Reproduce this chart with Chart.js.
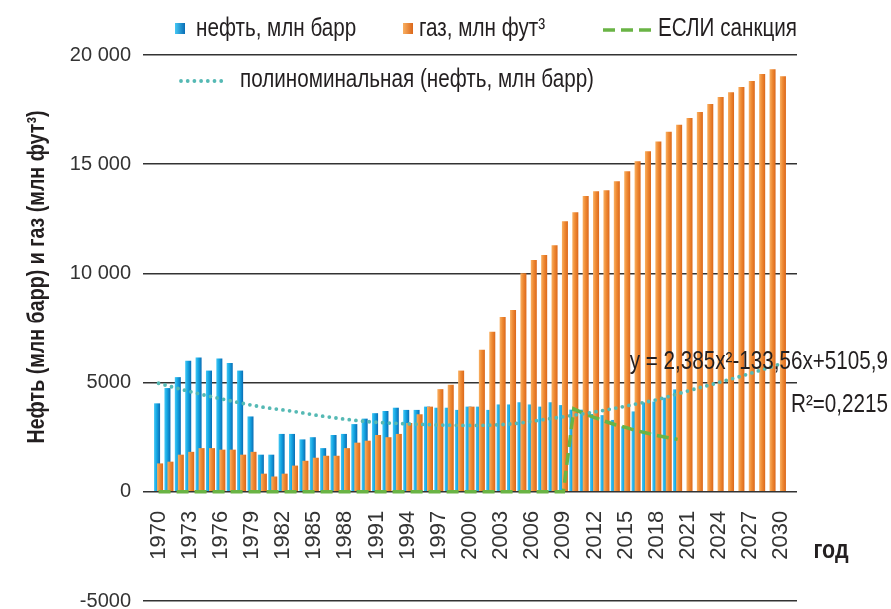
<!DOCTYPE html>
<html>
<head>
<meta charset="utf-8">
<script src="https://cdn.jsdelivr.net/npm/chart.js@4.4.0/dist/chart.umd.min.js"></script>
<style>
html, body { margin: 0; padding: 0; background: #fff; }
#wrap { width: 891px; height: 609px; }
</style>
</head>
<body>
<div id="wrap"><canvas id="myChart" width="891" height="609"></canvas></div>
<script>
// years on the x axis
const years = [1970, 1971, 1972, 1973, 1974, 1975, 1976, 1977, 1978, 1979,
    1980, 1981, 1982, 1983, 1984, 1985, 1986, 1987, 1988, 1989,
    1990, 1991, 1992, 1993, 1994, 1995, 1996, 1997, 1998, 1999,
    2000, 2001, 2002, 2003, 2004, 2005, 2006, 2007, 2008, 2009,
    2010, 2011, 2012, 2013, 2014, 2015, 2016, 2017, 2018, 2019,
    2020, 2021, 2022, 2023, 2024, 2025, 2026, 2027, 2028, 2029, 2030];

// нефть, млн барр (1970-2020)
const oil = [4050, 4750, 5250, 6000, 6150, 5550, 6100, 5900, 5550, 3450,
    1700, 1700, 2650, 2650, 2400, 2500, 2000, 2600, 2650, 3100,
    3350, 3600, 3700, 3850, 3750, 3750, 3900, 3850, 3850, 3750,
    3900, 3900, 3750, 4000, 4000, 4100, 4000, 3900, 4100, 3970,
    3760, 3760, 3560, 3510, 3290, 3000, 3680, 4090, 4130, 4310, 4690];

// газ, млн фут3 (1970-2030)
const gas = [1300, 1380, 1700, 1830, 2000, 2000, 1930, 1930, 1700, 1830,
    830, 700, 830, 1200, 1420, 1560, 1650, 1650, 2000, 2250,
    2340, 2600, 2500, 2650, 3150, 3550, 3900, 4700, 4900, 5550,
    3900, 6500, 7330, 8000, 8320, 10010, 10610, 10840, 11290, 12390,
    12800, 13540, 13760, 13810, 14220, 14680, 15140, 15590, 16040, 16490,
    16810, 17120, 17390, 17760, 18080, 18300, 18530, 18810, 19130, 19350, 19030];

// ЕСЛИ санкция
const sanctionYears = [1970, 2009, 2010, 2011, 2012, 2013, 2014, 2015, 2016, 2017, 2018, 2019, 2020];
const sanctionValues = [0, 0, 3800, 3580, 3400, 3230, 3070, 2950, 2800, 2690, 2580, 2490, 2400];

// полиноминальная (нефть)
const trendYears = [1970, 1973, 1976, 1980, 1983, 1986, 1990, 1994, 2000, 2004, 2008, 2011, 2013, 2016, 2018, 2021, 2024, 2027, 2030];
const trendValues = [4970, 4590, 4260, 3880, 3680, 3450, 3220, 3110, 3040, 3110, 3370, 3580, 3740, 4020, 4220, 4620, 5010, 5420, 5870];

// tick labels
const xTickYears = [1970, 1973, 1976, 1979, 1982, 1985, 1988, 1991, 1994, 1997, 2000,
    2003, 2006, 2009, 2012, 2015, 2018, 2021, 2024, 2027, 2030];
const yTickValues = [-5000, 0, 5000, 10000, 15000, 20000];
const yTickLabels = ['-5000', '0', '5000', '10 000', '15 000', '20 000'];

const PLAIN = '"Liberation Sans", Arial, sans-serif';

const blueStops = ['#45c8f4', '#14a6e3', '#0a6db5'];
const orangeStops = ['#f9b062', '#ef8a33', '#db671a'];

function barFill(c, stops, shift) {
    const chart = c.chart;
    if (c.type !== 'data' || !chart.chartArea) return stops[1];
    const x = chart.scales.x.getPixelForValue(c.raw.x) + shift;
    const g = chart.ctx.createLinearGradient(x - 3, 0, x + 3, 0);
    g.addColorStop(0, stops[0]);
    g.addColorStop(0.45, stops[1]);
    g.addColorStop(1, stops[2]);
    return g;
}

// oil has to be painted under gas, but keep the left slot
const drawOrder = {
    id: 'drawOrder',
    beforeDatasetDraw(chart, args) {
        if (args.meta.label === 'oil') return false;
        if (args.meta.label === 'gas') {
            const oilIdx = chart.data.datasets.findIndex(d => d.label === 'oil');
            chart.getDatasetMeta(oilIdx).controller.draw();
        }
    }
};

// condensed text: regular font squeezed horizontally
function narrowText(ctx, text, x, y, sx, align) {
    ctx.save();
    ctx.translate(x, y);
    ctx.scale(sx, 1);
    ctx.textAlign = align;
    ctx.fillText(text, 0, 0);
    ctx.restore();
}

const decorations = {
    id: 'decorations',
    afterDraw(chart) {
        const ctx = chart.ctx;
        ctx.save();
        ctx.textBaseline = 'middle';
        ctx.font = '25px ' + PLAIN;
        const sx = 354 / ctx.measureText('полиноминальная (нефть, млн барр)').width;

        // legend row 1
        let g = ctx.createLinearGradient(175, 0, 185, 0);
        g.addColorStop(0, blueStops[0]); g.addColorStop(1, blueStops[2]);
        ctx.fillStyle = g;
        ctx.fillRect(175, 23, 10, 11);
        ctx.fillStyle = '#231f20';
        narrowText(ctx, 'нефть, млн барр', 196, 29, sx, 'left');

        g = ctx.createLinearGradient(403, 0, 413, 0);
        g.addColorStop(0, orangeStops[0]); g.addColorStop(1, orangeStops[2]);
        ctx.fillStyle = g;
        ctx.fillRect(403, 23, 10, 11);
        ctx.fillStyle = '#231f20';
        narrowText(ctx, 'газ, млн фут³', 419, 29, sx, 'left');

        ctx.strokeStyle = '#6ab445';
        ctx.lineWidth = 3.5;
        ctx.setLineDash([12, 6]);
        ctx.beginPath();
        ctx.moveTo(603, 30); ctx.lineTo(651, 30);
        ctx.stroke();
        narrowText(ctx, 'ЕСЛИ санкция', 797, 29, sx, 'right');

        // legend row 2
        ctx.strokeStyle = '#55b9b4';
        ctx.lineWidth = 3.8;
        ctx.lineCap = 'round';
        ctx.setLineDash([0, 6.7]);
        ctx.beginPath();
        ctx.moveTo(181, 81); ctx.lineTo(226, 81);
        ctx.stroke();
        ctx.setLineDash([]);
        narrowText(ctx, 'полиноминальная (нефть, млн барр)', 240, 80, sx, 'left');

        // trend equation
        narrowText(ctx, 'y = 2,385x²-133,56x+5105,9', 888, 362, sx, 'right');
        narrowText(ctx, 'R²=0,2215', 888, 405, sx, 'right');

        // axis titles
        ctx.font = 'bold 26px ' + PLAIN;
        narrowText(ctx, 'год', 831, 551, sx, 'center');
        ctx.font = 'bold 24px ' + PLAIN;
        const title = 'Нефть (млн барр) и газ (млн фут³)';
        const tx = 333 / ctx.measureText(title).width;
        ctx.translate(37, 277);
        ctx.rotate(-Math.PI / 2);
        narrowText(ctx, title, 0, 0, tx, 'center');
        ctx.restore();
    }
};

const ctx = document.getElementById('myChart').getContext('2d');
new Chart(ctx, {
    type: 'bar',
    data: {
        datasets: [
            {
                type: 'line',
                label: 'trend',
                order: 0,
                data: trendYears.map((x, i) => ({ x: x, y: trendValues[i] })),
                borderColor: '#55b9b4',
                borderWidth: 3.8,
                borderDash: [0, 6.7],
                borderCapStyle: 'round',
                cubicInterpolationMode: 'monotone',
                pointRadius: 0,
                fill: false
            },
            {
                type: 'line',
                label: 'sanction',
                order: 1,
                data: sanctionYears.map((x, i) => ({ x: x, y: sanctionValues[i] })),
                borderColor: '#6ab445',
                borderWidth: 3.5,
                borderDash: [12, 6],
                tension: 0,
                pointRadius: 0,
                fill: false
            },
            {
                label: 'oil',
                order: 2,
                data: oil.map((v, i) => ({ x: years[i], y: v })),
                backgroundColor: c => barFill(c, blueStops, -1.55),
                categoryPercentage: 0.58,
                barPercentage: 2
            },
            {
                label: 'gas',
                order: 3,
                data: gas.map((v, i) => ({ x: years[i], y: v })),
                backgroundColor: c => barFill(c, orangeStops, 1.55),
                categoryPercentage: 0.58,
                barPercentage: 2
            }
        ]
    },
    options: {
        responsive: false,
        animation: false,
        layout: { padding: { left: 0, right: 94, top: 55, bottom: 8 } },
        plugins: {
            legend: { display: false },
            tooltip: { enabled: false }
        },
        scales: {
            x: {
                type: 'linear',
                position: { y: 0 },
                offset: false,
                min: 1968.5,
                max: 2031.5,
                afterBuildTicks: s => { s.ticks = xTickYears.map(v => ({ value: v })); },
                afterFit: s => { s.paddingLeft = 0; s.paddingRight = 0; },
                ticks: {
                    autoSkip: false,
                    minRotation: 90,
                    maxRotation: 90,
                    padding: 11,
                    color: '#333',
                    font: { family: PLAIN, size: 22 },
                    callback: v => String(v)
                },
                grid: { display: false, offset: false },
                border: { display: false }
            },
            y: {
                min: -5000,
                max: 20000,
                afterBuildTicks: s => { s.ticks = yTickValues.map(v => ({ value: v })); },
                afterFit: s => { s.width = 143; s.paddingTop = 0; s.paddingBottom = 0; },
                ticks: {
                    padding: 12,
                    color: '#333',
                    font: { family: PLAIN, size: 20 },
                    callback: v => yTickLabels[yTickValues.indexOf(v)]
                },
                grid: { color: '#333', lineWidth: 1.6, drawTicks: false },
                border: { display: false }
            }
        }
    },
    plugins: [drawOrder, decorations]
});
</script>
</body>
</html>
